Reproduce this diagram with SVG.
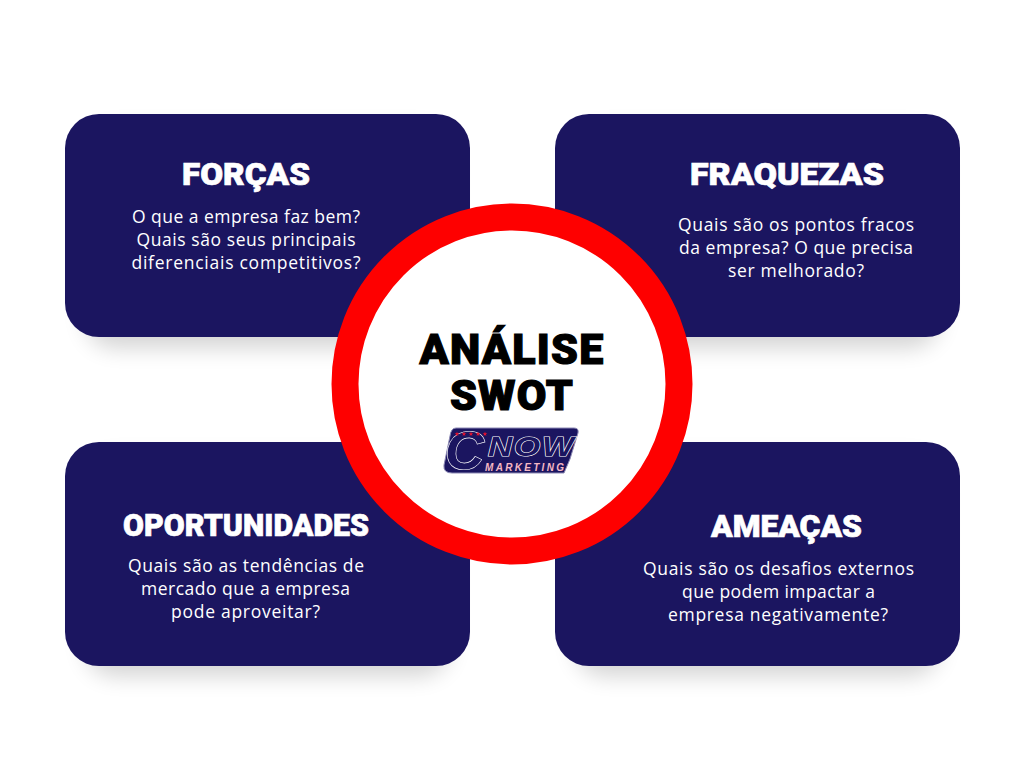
<svg xmlns="http://www.w3.org/2000/svg" width="1024" height="768" viewBox="0 0 1024 768">
<defs>
<filter id="sh" x="-20%" y="-20%" width="140%" height="150%"><feGaussianBlur stdDeviation="11"/></filter>
<symbol id="star" viewBox="-5 -5 10 10" overflow="visible"><polygon points="0,-4 1,-1.2 4,-1.2 1.6,.6 2.4,3.4 0,1.7 -2.4,3.4 -1.6,.6 -4,-1.2 -1,-1.2" fill="#e8112d"/></symbol>
</defs>
<style>
.card{fill:#1b1560}
.shadow{fill:#000;opacity:.17;filter:url(#sh)}
.h{font-family:Roboto,"Noto Sans",sans-serif;font-weight:900;font-size:31px;fill:#fff;stroke:#fff;stroke-width:.7px;text-anchor:middle}
.b{font-family:"Open Sans","Noto Sans",sans-serif;font-size:17.5px;fill:#fff;text-anchor:middle}
.c{font-family:Roboto,"Noto Sans",sans-serif;font-weight:900;font-size:43px;fill:#000;stroke:#000;stroke-width:1.2px;text-anchor:middle;letter-spacing:1.2px}
.lg{font-family:"Liberation Sans",Arial,sans-serif;font-weight:700;font-style:italic}
.ln{fill:#1b1560;stroke:#fff;stroke-width:1.2px;paint-order:stroke}
.lm{fill:#f6b8c4;stroke:none}
</style>
<rect width="1024" height="768" fill="#fff"/>
<g id="connectors"/>
<g id="forcas"><rect class="shadow" x="85" y="130" width="365" height="218" rx="30"/><rect class="card" x="65" y="114" width="405" height="223" rx="34"/>
<text class="h" x="246" y="185" textLength="128" lengthAdjust="spacingAndGlyphs">FORÇAS</text>
<text class="b" x="246" y="223" textLength="228">O que a empresa faz bem?</text>
<text class="b" x="246" y="246" textLength="219">Quais são seus principais</text>
<text class="b" x="246" y="269" textLength="229">diferenciais competitivos?</text></g>
<g id="fraquezas"><rect class="shadow" x="575" y="130" width="365" height="218" rx="30"/><rect class="card" x="555" y="114" width="405" height="223" rx="34"/>
<text class="h" x="787" y="185" textLength="194" lengthAdjust="spacingAndGlyphs">FRAQUEZAS</text>
<text class="b" x="796" y="231" textLength="236">Quais são os pontos fracos</text>
<text class="b" x="796" y="254" textLength="234">da empresa? O que precisa</text>
<text class="b" x="796" y="277" textLength="136">ser melhorado?</text></g>
<g id="oportunidades"><rect class="shadow" x="85" y="458" width="365" height="218" rx="30"/><rect class="card" x="65" y="442" width="405" height="224" rx="34"/>
<text class="h" x="246" y="536" textLength="246" lengthAdjust="spacingAndGlyphs">OPORTUNIDADES</text>
<text class="b" x="246" y="572" textLength="236">Quais são as tendências de</text>
<text class="b" x="245.500" y="595" textLength="209">mercado que a empresa</text>
<text class="b" x="245.500" y="618" textLength="149">pode aproveitar?</text></g>
<g id="ameacas"><rect class="shadow" x="575" y="458" width="365" height="218" rx="30"/><rect class="card" x="555" y="442" width="405" height="224" rx="34"/>
<text class="h" x="786.500" y="537" textLength="151" lengthAdjust="spacingAndGlyphs">AMEAÇAS</text>
<text class="b" x="778.500" y="575" textLength="271">Quais são os desafios externos</text>
<text class="b" x="778.500" y="598" textLength="193">que podem impactar a</text>
<text class="b" x="778" y="621" textLength="220">empresa negativamente?</text></g>
<g id="centro"><circle cx="512" cy="384" r="167" fill="#fff" stroke="#fe0000" stroke-width="27"/>
<text class="c"><tspan x="512" y="364">ANÁLISE</tspan><tspan x="512" y="410">SWOT</tspan></text>
</g>
<g id="logo">
<path d="M456 428H574Q579 428 578 433L570 459L564 473H452Q443 473 444 465L450 436Q451 428 456 428Z" fill="#1b1560" stroke="#8d8ab5" stroke-width="1"/>
<text class="lg ln" x="445" y="469" font-size="54">C</text>
<text class="lg ln" transform="translate(488 456) scale(1.2 1)" font-size="28" letter-spacing="1.500">NOW</text>
<text class="lg lm" x="485" y="471" font-size="10" letter-spacing="2.300">MARKETING</text>
<g><use href="#star" x="454" y="431" width="6" height="6"/><use href="#star" x="461" y="431" width="6" height="6"/><use href="#star" x="468" y="431" width="6" height="6"/><use href="#star" x="475" y="431" width="6" height="6"/><use href="#star" x="482" y="431" width="6" height="6"/></g>
</g>
</svg>
